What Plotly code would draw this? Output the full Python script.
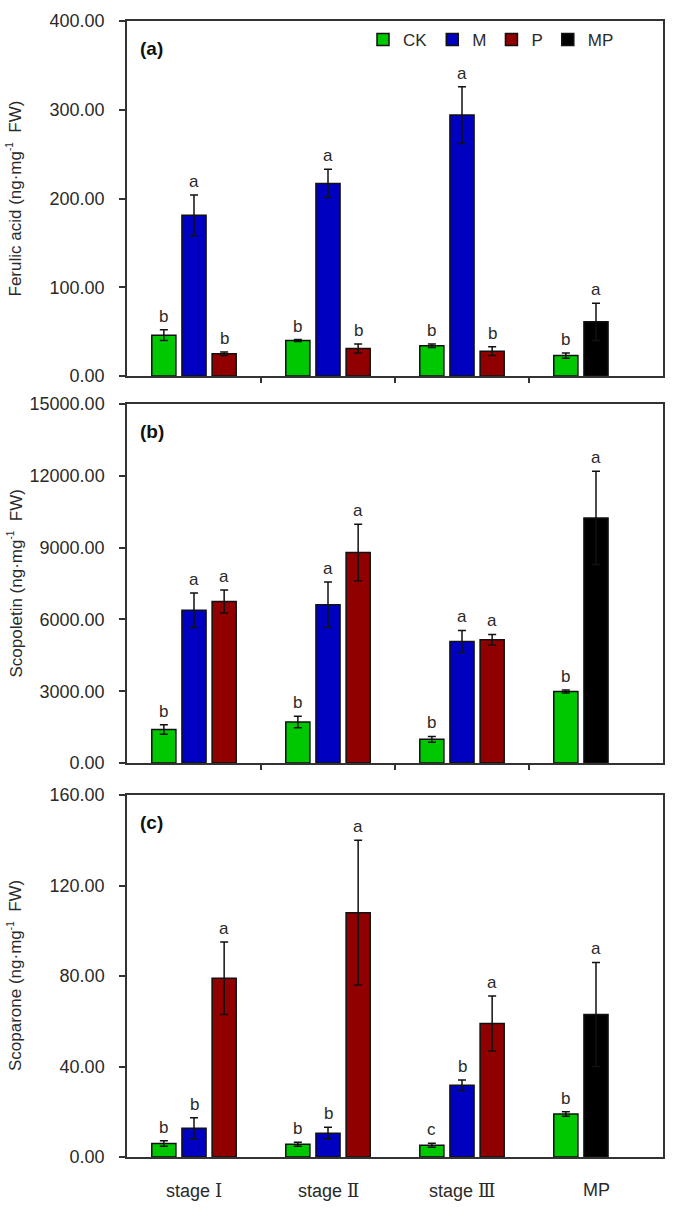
import plotly.graph_objects as go

W, H = 685, 1223

ROMAN = "font-family:DejaVu Serif"
groups = ["stage <span style='" + ROMAN + "'>Ⅰ</span>",
          "stage <span style='" + ROMAN + "'>Ⅱ</span>",
          "stage <span style='" + ROMAN + "'>Ⅲ</span>",
          "MP"]
series = ["CK", "M", "P", "MP"]
colors = {"CK": "#00C800", "M": "#0000C0", "P": "#900000", "MP": "#000000"}

# Panel (a) Ferulic acid
fa_ck = [46, 40, 34, 23]
fa_ck_err = [6, 1, 2, 3]
fa_m = [181, 217, 294]
fa_m_err = [23, 16, 32]
fa_p = [25, 31, 28]
fa_p_err = [2, 5, 5]
fa_mp = [61]
fa_mp_err = [21]
fa_ck_let = ["b", "b", "b", "b"]
fa_m_let = ["a", "a", "a"]
fa_p_let = ["b", "b", "b"]
fa_mp_let = ["a"]

# Panel (b) Scopoletin
sc_ck = [1400, 1710, 990, 2990]
sc_ck_err = [200, 240, 120, 60]
sc_m = [6380, 6610, 5080]
sc_m_err = [720, 950, 460]
sc_p = [6750, 8800, 5150]
sc_p_err = [480, 1180, 220]
sc_mp = [10240]
sc_mp_err = [1950]
sc_ck_let = ["b", "b", "b", "b"]
sc_m_let = ["a", "a", "a"]
sc_p_let = ["a", "a", "a"]
sc_mp_let = ["a"]

# Panel (c) Scoparone
sp_ck = [6.0, 5.6, 5.2, 19.0]
sp_ck_err = [1.2, 0.9, 0.9, 1.0]
sp_m = [12.7, 10.5, 31.7]
sp_m_err = [4.6, 2.6, 2.3]
sp_p = [79, 108, 59]
sp_p_err = [16, 32, 12.2]
sp_mp = [63]
sp_mp_err = [23]
sp_ck_let = ["b", "b", "c", "b"]
sp_m_let = ["b", "b", "b"]
sp_p_let = ["a", "a", "a"]
sp_mp_let = ["a"]

SUP = "<sup><span style='font-size:10px'>-1</span></sup>"
panels = [
    dict(label="(a)", title="Ferulic acid (ng·mg" + SUP + "  FW)", rng=[0, 400], dtick=100,
         ck=(fa_ck, fa_ck_err, fa_ck_let), m=(fa_m, fa_m_err, fa_m_let),
         p=(fa_p, fa_p_err, fa_p_let), mp=(fa_mp, fa_mp_err, fa_mp_let),
         top=21, bot=376),
    dict(label="(b)", title="Scopoletin (ng·mg" + SUP + "  FW)", rng=[0, 15000], dtick=3000,
         ck=(sc_ck, sc_ck_err, sc_ck_let), m=(sc_m, sc_m_err, sc_m_let),
         p=(sc_p, sc_p_err, sc_p_let), mp=(sc_mp, sc_mp_err, sc_mp_let),
         top=404, bot=763),
    dict(label="(c)", title="Scoparone (ng·mg" + SUP + "  FW)", rng=[0, 160], dtick=40,
         ck=(sp_ck, sp_ck_err, sp_ck_let), m=(sp_m, sp_m_err, sp_m_let),
         p=(sp_p, sp_p_err, sp_p_let), mp=(sp_mp, sp_mp_err, sp_mp_let),
         top=795, bot=1157),
]

OFF = 0.225
BW = 0.18
X0, X1 = 127, 663
FONT = "Liberation Sans, Arial, sans-serif"
TXT = "#2a2a2a"

fig = go.Figure()
annotations = []
layout = {}

for i, pn in enumerate(panels):
    k = "" if i == 0 else str(i + 1)
    xa, ya = "x" + k, "y" + k
    specs = [
        ("CK", [g - OFF for g in range(4)], pn["ck"]),
        ("M", [g for g in range(3)], pn["m"]),
        ("P", [g + OFF for g in range(3)], pn["p"]),
        ("MP", [3], pn["mp"]),
    ]
    for name, xs, (vals, errs, lets) in specs:
        fig.add_trace(go.Bar(
            x=xs, y=vals, width=BW, name=name, xaxis=xa, yaxis=ya,
            marker=dict(color=colors[name], line=dict(color="#111111", width=1.5)),
            error_y=dict(type="data", array=errs, visible=True, color="#111111",
                         thickness=1.5, width=4),
            showlegend=(i == 0),
        ))
        for xv, v, e, t in zip(xs, vals, errs, lets):
            annotations.append(dict(x=xv, y=v + e, xref=xa, yref=ya, text=t,
                                    showarrow=False, yanchor="bottom", yshift=2,
                                    font=dict(family=FONT, size=17, color=TXT)))
    ydom = [1 - pn["bot"] / H, 1 - pn["top"] / H]
    xkey = "xaxis" + k
    ykey = "yaxis" + k
    layout[xkey] = dict(
        domain=[X0 / W, X1 / W], range=[-0.5, 3.5], anchor=ya, automargin=False,
        showline=True, linecolor="#333333", linewidth=1.5, mirror=True,
        tickvals=[0.5, 1.5, 2.5] if i < 2 else [], showticklabels=False,
        ticks="outside" if i < 2 else "", ticklen=5, tickwidth=1.5, tickcolor="#333333",
        showgrid=False, zeroline=False, fixedrange=True,
    )
    layout[ykey] = dict(
        domain=ydom, range=pn["rng"], dtick=pn["dtick"], anchor=xa, automargin=False,
        tickformat=".2f", showline=True, linecolor="#333333", linewidth=1.5, mirror=True,
        ticks="outside", ticklen=6, tickwidth=1.5, tickcolor="#333333",
        ticklabelstandoff=11,
        tickfont=dict(family=FONT, size=18, color=TXT),
        showgrid=False, zeroline=False,
    )
    # panel label
    annotations.append(dict(x=138 / W, y=1 - (pn["top"] + 27) / H, xref="paper", yref="paper",
                            text="<b>" + pn["label"] + "</b>", showarrow=False,
                            xanchor="left", yanchor="middle",
                            font=dict(family=FONT, size=19, color="#111111")))
    # y title
    annotations.append(dict(x=15 / W, y=1 - (pn["top"] + pn["bot"]) / 2 / H, xref="paper",
                            yref="paper", text=pn["title"], textangle=-90, showarrow=False,
                            xanchor="center", yanchor="middle",
                            font=dict(family=FONT, size=17, color=TXT)))

for g, name in enumerate(groups):
    annotations.append(dict(x=g, y=1 - 1190 / H, xref="x3", yref="paper", text=name,
                            showarrow=False, yanchor="middle",
                            font=dict(family=FONT, size=18, color=TXT)))

fig.update_layout(
    width=W, height=H, autosize=False,
    margin=dict(l=0, r=0, t=0, b=0, autoexpand=False),
    paper_bgcolor="white", plot_bgcolor="white",
    barmode="overlay",
    showlegend=True,
    legend=dict(orientation="h", x=363 / W, y=1 - 40 / H, xanchor="left", yanchor="middle",
                font=dict(family=FONT, size=17, color=TXT), bgcolor="rgba(0,0,0,0)"),
    annotations=annotations,
    **layout,
)

fig.write_html("out.html", config={"displayModeBar": False},
               post_script="document.body.style.margin='0px';document.body.style.overflow='hidden';")
